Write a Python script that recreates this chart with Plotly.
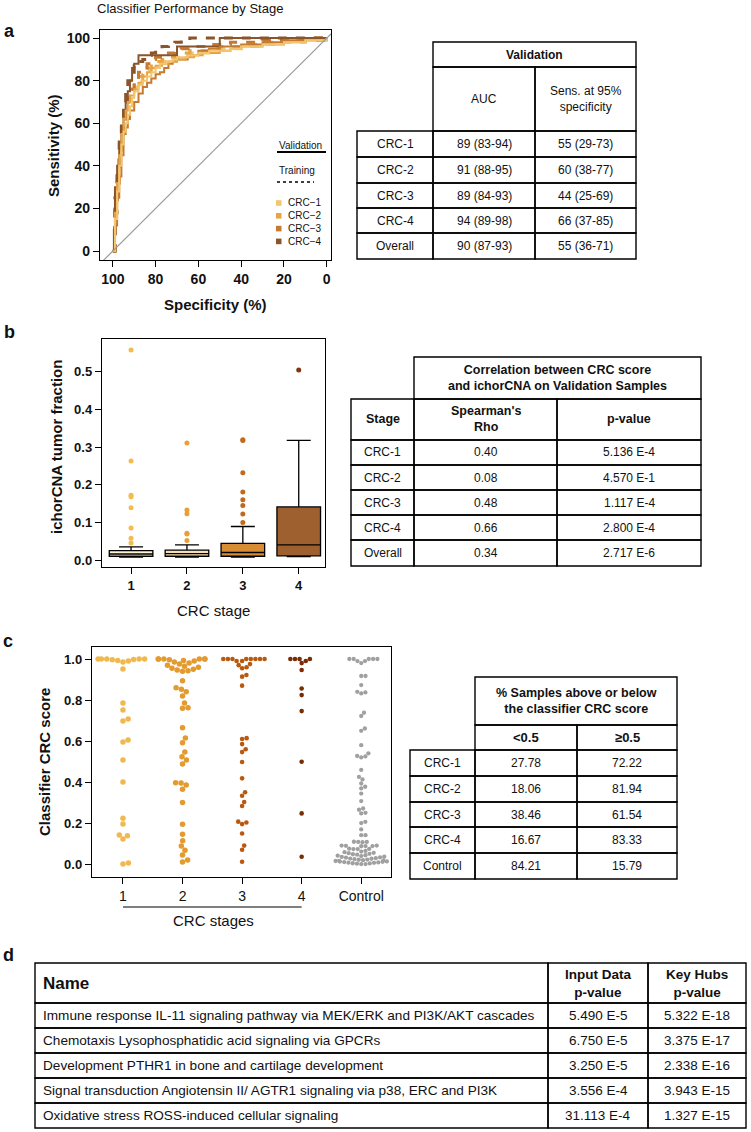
import math
import plotly.graph_objects as go

W, H = 751, 1132
FONT = "Liberation Sans, Arial, sans-serif"

# ---------------- data ----------------
stages = ["CRC-1", "CRC-2", "CRC-3", "CRC-4"]
roc_colors = ["#F3C56E", "#E6A445", "#C47A30", "#8B552B"]

val_spec = [
    [100, 99, 98, 97, 96, 95, 94, 93, 92, 91, 90, 88, 86, 84, 82, 80, 78, 75, 72, 70, 65, 60, 55, 50, 45, 40, 35, 30, 20, 10, 0],
    [100, 99, 98, 97, 96, 95, 94, 93, 92, 90, 88, 86, 84, 82, 80, 77, 74, 70, 66, 62, 58, 54, 50, 45, 40, 30, 20, 10, 0],
    [100, 99, 98, 97, 96, 95, 94, 93, 92, 90, 88, 86, 84, 82, 80, 78, 76, 74, 72, 70, 65, 60, 55, 50, 45, 40, 30, 20, 10, 0],
    [100, 99.5, 99, 98, 97, 96, 95, 94, 93, 92, 91, 90, 88, 84, 80, 76, 72, 70, 60, 52, 50, 40, 30, 20, 10, 0],
]
val_sens = [
    [0, 15, 28, 40, 50, 56, 60, 64, 68, 72, 75, 78, 80, 82, 84, 86, 88, 89, 90, 91, 92, 93, 94, 94, 95, 96, 96, 97, 98, 99, 100],
    [0, 18, 32, 45, 55, 62, 66, 70, 73, 76, 79, 82, 84, 86, 87, 88, 89, 90, 91, 92, 93, 93, 94, 95, 96, 97, 98, 99, 100],
    [0, 12, 25, 35, 45, 55, 58, 62, 66, 70, 74, 77, 79, 81, 83, 84, 86, 88, 89, 90, 92, 94, 95, 96, 96, 97, 98, 99, 99, 100],
    [0, 10, 30, 40, 50, 58, 62, 70, 75, 80, 86, 88, 92, 92, 92, 92, 92, 96, 96, 96, 100, 100, 100, 100, 100, 100],
]
train_spec = [100, 99, 98, 97, 96, 95, 94, 93, 92, 90, 88, 86, 84, 82, 80, 77, 74, 71, 68, 64, 60, 55, 50, 45, 40, 30, 20, 10, 0]
train_sens = [
    [0, 20, 34, 46, 55, 62, 66, 70, 74, 77, 80, 83, 85, 86, 88, 89, 90, 91, 92, 93, 93, 94, 95, 95, 96, 97, 98, 99, 100],
    [0, 22, 38, 50, 58, 64, 68, 72, 76, 79, 82, 84, 86, 88, 89, 90, 91, 92, 93, 94, 94, 95, 96, 96, 97, 98, 99, 99, 100],
    [0, 18, 32, 44, 54, 62, 67, 72, 76, 80, 84, 86, 88, 90, 91, 92, 93, 94, 95, 96, 96, 97, 97, 98, 98, 99, 99, 100, 100],
    [0, 25, 40, 52, 62, 70, 76, 80, 84, 87, 89, 90, 92, 93, 95, 96, 97, 98, 99, 100, 100, 100, 100, 100, 100, 100, 100, 100, 100],
]

table_a_rows = ["CRC-1", "CRC-2", "CRC-3", "CRC-4", "Overall"]
table_a_auc = ["89 (83-94)", "91 (88-95)", "89 (84-93)", "94 (89-98)", "90 (87-93)"]
table_a_sens = ["55 (29-73)", "60 (38-77)", "44 (25-69)", "66 (37-85)", "55 (36-71)"]

box_stage = [1, 2, 3, 4]
box_q1 = [0.010, 0.010, 0.010, 0.011]
box_med = [0.016, 0.017, 0.020, 0.040]
box_q3 = [0.025, 0.026, 0.044, 0.141]
box_low = [0.008, 0.008, 0.008, 0.009]
box_up = [0.035, 0.040, 0.089, 0.318]
box_fill = ["#FFF3D6", "#F6DFB3", "#D98C36", "#9E602E"]
outliers = [
    [0.558, 0.263, 0.172, 0.168, 0.139, 0.085, 0.058, 0.045],
    [0.311, 0.133, 0.123, 0.071, 0.069, 0.052],
    [0.320, 0.318, 0.232, 0.181, 0.160, 0.145, 0.122, 0.100],
    [0.505],
]
outlier_colors = ["#F3BC4D", "#E8A035", "#C26A1C", "#7E3510"]

table_b_rows = ["CRC-1", "CRC-2", "CRC-3", "CRC-4", "Overall"]
table_b_rho = ["0.40", "0.08", "0.48", "0.66", "0.34"]
table_b_p = ["5.136 E-4", "4.570 E-1", "1.117 E-4", "2.800 E-4", "2.717 E-6"]

swarm_labels = ["1", "2", "3", "4", "Control"]
swarm_colors = ["#F0B94F", "#E39A2E", "#B9590F", "#7A2C05", "#A0A0A0"]
swarm_sizes = [5.5, 5.5, 4.6, 4.6, 4.3]
score_stage1 = [0.0, 0.005, 0.122, 0.138, 0.142, 0.195, 0.224, 0.40, 0.507, 0.595, 0.605, 0.698, 0.707,
                0.751, 0.785, 0.951, 0.985, 0.99, 0.993, 0.996, 0.998, 1.0, 1.0, 1.0, 1.0, 1.0]
score_stage2 = [0.01, 0.02, 0.044, 0.068, 0.088, 0.114, 0.146, 0.194, 0.30, 0.365, 0.385, 0.395, 0.397,
                0.488, 0.507, 0.523, 0.546, 0.592, 0.615, 0.665, 0.76, 0.762, 0.785, 0.82, 0.84, 0.853,
                0.86, 0.894, 0.94, 0.943, 0.946, 0.95, 0.955, 0.96, 0.965, 0.97, 0.975, 0.98, 0.985,
                0.99, 0.993, 0.996, 1.0, 1.0, 1.0, 1.0, 1.0, 1.0]
score_stage3 = [0.011, 0.07, 0.09, 0.149, 0.195, 0.203, 0.207, 0.283, 0.303, 0.333, 0.35, 0.418, 0.498,
                0.546, 0.56, 0.585, 0.61, 0.614, 0.87, 0.914, 0.922, 0.955, 0.96, 0.97, 0.975, 0.99,
                0.99, 1.0, 1.0, 1.0, 1.0, 1.0, 1.0, 1.0, 1.0]
score_stage4 = [0.036, 0.247, 0.499, 0.746, 0.824, 0.856, 0.946, 0.98, 0.99, 1.0, 1.0, 1.0, 1.0]
score_control = [0.0, 0.0, 0.002, 0.003, 0.004, 0.006, 0.007, 0.008, 0.01, 0.011, 0.012, 0.013, 0.015,
                 0.016, 0.018, 0.019, 0.021, 0.022, 0.024, 0.026, 0.027, 0.029, 0.031, 0.033, 0.035,
                 0.036, 0.039, 0.041, 0.043, 0.046, 0.048, 0.05, 0.053, 0.055, 0.058, 0.061, 0.064,
                 0.073, 0.073, 0.074, 0.075, 0.087, 0.088, 0.088, 0.089, 0.09, 0.09, 0.107, 0.108,
                 0.108, 0.109, 0.141, 0.141, 0.169, 0.2, 0.206, 0.247, 0.25, 0.265, 0.271, 0.307,
                 0.344, 0.369, 0.377, 0.393, 0.413, 0.425, 0.459, 0.52, 0.525, 0.527, 0.54, 0.58,
                 0.65, 0.661, 0.722, 0.738, 0.832, 0.837, 0.84, 0.873, 0.917, 0.917, 0.98, 0.99,
                 0.99, 1.0, 1.0, 1.0, 1.0, 1.0]
swarm_scores = [score_stage1, score_stage2, score_stage3, score_stage4, score_control]

table_c_rows = ["CRC-1", "CRC-2", "CRC-3", "CRC-4", "Control"]
table_c_below = ["27.78", "18.06", "38.46", "16.67", "84.21"]
table_c_above = ["72.22", "81.94", "61.54", "83.33", "15.79"]

table_d_names = [
    "Immune response IL-11 signaling pathway via MEK/ERK and PI3K/AKT cascades",
    "Chemotaxis Lysophosphatidic acid signaling via GPCRs",
    "Development PTHR1 in bone and cartilage development",
    "Signal transduction Angiotensin II/ AGTR1 signaling via p38, ERC and PI3K",
    "Oxidative stress ROSS-induced cellular signaling",
]
table_d_input = ["5.490 E-5", "6.750 E-5", "3.250 E-5", "3.556 E-4", "31.113 E-4"]
table_d_hubs = ["5.322 E-18", "3.375 E-17", "2.338 E-16", "3.943 E-15", "1.327 E-15"]


# ---------------- helpers ----------------
def X(px):
    return px / W


def Y(py):
    return 1 - py / H


shapes = []
annotations = []


def text(px, py, s, size, bold=False, xanchor="center", angle=0, color="#111"):
    annotations.append(dict(
        x=X(px), y=Y(py), xref="paper", yref="paper", text=s, showarrow=False,
        xanchor=xanchor, yanchor="middle", textangle=angle,
        font=dict(family=FONT, size=size, color=color, weight="bold" if bold else "normal")))


def cell(x0, x1, y0, y1, s=None, size=12, bold=False, align="center"):
    shapes.append(dict(type="rect", xref="paper", yref="paper", x0=X(x0), x1=X(x1),
                       y0=Y(y1), y1=Y(y0), line=dict(color="black", width=1.4)))
    if s is not None:
        if align == "center":
            text((x0 + x1) / 2, (y0 + y1) / 2, s, size, bold)
        else:
            text(x0 + 6, (y0 + y1) / 2, s, size, bold, xanchor="left")


fig = go.Figure()

# ---------------- panel a: ROC ----------------
for i in range(4):
    fig.add_trace(go.Scatter(x=train_spec, y=train_sens[i], mode="lines", line_shape="hv",
                             line=dict(color=roc_colors[i], width=3, dash="dash"),
                             xaxis="x", yaxis="y", showlegend=False, hoverinfo="skip"))
for i in range(3, -1, -1):
    fig.add_trace(go.Scatter(x=val_spec[i], y=val_sens[i], mode="lines", line_shape="hv",
                             line=dict(color=roc_colors[i], width=2),
                             xaxis="x", yaxis="y", showlegend=False, hoverinfo="skip"))
fig.add_trace(go.Scatter(x=[106, -2], y=[-6, 102], mode="lines", line=dict(color="#999999", width=1.2),
                         xaxis="x", yaxis="y", showlegend=False, hoverinfo="skip"))

text(190, 9, "Classifier Performance by Stage", 13)
text(9, 31, "a", 18, True)
text(53, 146, "Sensitivity (%)", 15, True, angle=-90)
text(215, 304, "Specificity (%)", 15, True)
# legend
text(277, 145, "Validation", 10, xanchor="left")
shapes.append(dict(type="line", xref="paper", yref="paper", x0=X(277), x1=X(326), y0=Y(152), y1=Y(152),
                   line=dict(color="black", width=2)))
text(277, 171, "Training", 10, xanchor="left")
shapes.append(dict(type="line", xref="paper", yref="paper", x0=X(277), x1=X(314), y0=Y(182), y1=Y(182),
                   line=dict(color="black", width=1.5, dash="dot")))
for i, name in enumerate(stages):
    yy = 203 + i * 12.8
    shapes.append(dict(type="rect", xref="paper", yref="paper", x0=X(276), x1=X(281.5),
                       y0=Y(yy + 2.8), y1=Y(yy - 2.8), fillcolor=roc_colors[i], line=dict(width=0)))
    text(286, yy, name.replace("-", "\u2212"), 10, xanchor="left")

# table a
ca = [357, 433, 535, 636]
cell(ca[1], ca[3], 42, 67, "Validation", 12, True)
cell(ca[1], ca[2], 67, 131, "AUC", 12)
cell(ca[2], ca[3], 67, 131, "Sens. at 95%<br>specificity", 12)
ra = [131, 157, 183, 208, 233, 259]
for r in range(5):
    cell(ca[0], ca[1], ra[r], ra[r + 1], table_a_rows[r], 12)
    cell(ca[1], ca[2], ra[r], ra[r + 1], table_a_auc[r], 12)
    cell(ca[2], ca[3], ra[r], ra[r + 1], table_a_sens[r], 12)

# ---------------- panel b: boxplot ----------------
for i in range(4):
    fig.add_trace(go.Box(x=[box_stage[i]], q1=[box_q1[i]], median=[box_med[i]], q3=[box_q3[i]],
                         lowerfence=[box_low[i]], upperfence=[box_up[i]], width=0.78, whiskerwidth=0.55,
                         fillcolor=box_fill[i], line=dict(color="black", width=1.3), boxpoints=False,
                         xaxis="x2", yaxis="y2", showlegend=False, hoverinfo="skip"))
    fig.add_trace(go.Scatter(x=[box_stage[i]] * len(outliers[i]), y=outliers[i], mode="markers",
                             marker=dict(color=outlier_colors[i], size=5),
                             xaxis="x2", yaxis="y2", showlegend=False, hoverinfo="skip"))
text(9, 332, "b", 18, True)
text(57, 447, "ichorCNA tumor fraction", 15, True, angle=-90)
text(213, 610, "CRC stage", 15)

# table b
cb = [351, 414, 557, 701]
cell(cb[1], cb[3], 357, 399, "Correlation between CRC score<br>and ichorCNA on Validation Samples", 12.5, True)
cell(cb[0], cb[1], 399, 440, "Stage", 12.5, True)
cell(cb[1], cb[2], 399, 440, "Spearman's<br>Rho", 12.5, True)
cell(cb[2], cb[3], 399, 440, "p-value", 12.5, True)
rb = [440, 465, 490, 515, 540, 566]
for r in range(5):
    cell(cb[0], cb[1], rb[r], rb[r + 1], table_b_rows[r], 12)
    cell(cb[1], cb[2], rb[r], rb[r + 1], table_b_rho[r], 12)
    cell(cb[2], cb[3], rb[r], rb[r + 1], table_b_p[r], 12)

# ---------------- panel c: beeswarm ----------------
C_X0, C_X1, C_Y0, C_Y1 = 92, 391, 647, 877
cx_range = [0.48, 5.5]
cy_range = [-0.063, 1.0585]
xscale = (C_X1 - C_X0) / (cx_range[1] - cx_range[0])
yscale = (C_Y1 - C_Y0) / (cy_range[1] - cy_range[0])


def beeswarm(vals, dpx, limit_px):
    order = sorted(range(len(vals)), key=lambda k: vals[k])
    placed = []
    offs = [0.0] * len(vals)
    for k in order:
        y = vals[k] * yscale
        cands = [0.0]
        for xo, yo in placed:
            dy = abs(y - yo)
            if dy < dpx:
                dx = math.sqrt(dpx * dpx - dy * dy)
                cands.extend([xo + dx, xo - dx])
        cands.sort(key=abs)
        chosen = 0.0
        for c in cands:
            if all((c - xo) ** 2 + (y - yo) ** 2 >= dpx * dpx - 1e-6 for xo, yo in placed):
                chosen = c
                break
        placed.append((chosen, y))
        xo = chosen
        if abs(xo) > limit_px:
            xo = ((xo + limit_px) % (2 * limit_px)) - limit_px
        offs[k] = xo / xscale
    return offs


for g in range(5):
    vals = swarm_scores[g]
    offs = beeswarm(vals, swarm_sizes[g], 26)
    fig.add_trace(go.Scatter(x=[g + 1 + o for o in offs], y=vals, mode="markers",
                             marker=dict(color=swarm_colors[g], size=swarm_sizes[g]),
                             xaxis="x3", yaxis="y3", showlegend=False, hoverinfo="skip"))

text(8, 641, "c", 18, True)
text(44, 762, "Classifier CRC score", 15, True, angle=-90)
shapes.append(dict(type="line", xref="x3", yref="paper", x0=1, x1=4, y0=Y(907), y1=Y(907),
                   line=dict(color="black", width=1.2)))
text(213, 920, "CRC stages", 15)

# table c
cc = [410, 475, 577, 677]
cell(cc[1], cc[3], 677, 725, "% Samples above or below<br>the classifier CRC score", 12.5, True)
cell(cc[1], cc[2], 725, 750, "<0.5", 13, True)
cell(cc[2], cc[3], 725, 750, "\u22650.5", 13, True)
rc = [750, 776, 802, 827, 853, 879]
for r in range(5):
    cell(cc[0], cc[1], rc[r], rc[r + 1], table_c_rows[r], 12)
    cell(cc[1], cc[2], rc[r], rc[r + 1], table_c_below[r], 12)
    cell(cc[2], cc[3], rc[r], rc[r + 1], table_c_above[r], 12)

# ---------------- panel d: table ----------------
text(8, 955, "d", 18, True)
cd = [35, 548, 648, 746]
cell(cd[0], cd[1], 963, 1003, "Name", 17, True, align="left")
cell(cd[1], cd[2], 963, 1003, "Input Data<br>p-value", 13.5, True)
cell(cd[2], cd[3], 963, 1003, "Key Hubs<br>p-value", 13.5, True)
rd = [1003, 1028, 1053, 1078, 1103, 1128]
for r in range(5):
    cell(cd[0], cd[1], rd[r], rd[r + 1], table_d_names[r], 13.6, align="left")
    cell(cd[1], cd[2], rd[r], rd[r + 1], table_d_input[r], 13.5)
    cell(cd[2], cd[3], rd[r], rd[r + 1], table_d_hubs[r], 13.5)

# ---------------- layout ----------------
axis_common = dict(showline=True, mirror=True, linecolor="black", linewidth=1.4, ticks="outside",
                   ticklen=6, tickcolor="black", showgrid=False, zeroline=False,
                   tickfont=dict(family=FONT, size=13, color="#111", weight="bold"))

fig.update_layout(
    width=W, height=H, margin=dict(l=0, r=0, t=0, b=0),
    paper_bgcolor="white", plot_bgcolor="white", showlegend=False,
    xaxis=dict(domain=[X(100), X(331)], range=[106, -2], tickvals=[100, 80, 60, 40, 20, 0],
               anchor="y", **{**axis_common, "tickfont": dict(family=FONT, size=14, color="#111", weight="bold")}),
    yaxis=dict(domain=[Y(260), Y(30)], range=[-4.2, 103.8], tickvals=[0, 20, 40, 60, 80, 100],
               anchor="x", **{**axis_common, "tickfont": dict(family=FONT, size=14, color="#111", weight="bold")}),
    xaxis2=dict(domain=[X(102), X(325)], range=[0.48, 4.47], tickvals=box_stage,
                ticktext=[str(s) for s in box_stage], anchor="y2", **axis_common),
    yaxis2=dict(domain=[Y(567), Y(339)], range=[-0.0186, 0.5875], tickvals=[0, 0.1, 0.2, 0.3, 0.4, 0.5],
                tickformat=".1f", anchor="x2", **axis_common),
    xaxis3=dict(domain=[X(C_X0), X(C_X1)], range=cx_range, tickvals=[1, 2, 3, 4, 5],
                ticktext=swarm_labels, anchor="y3",
                **{**axis_common, "tickfont": dict(family=FONT, size=14, color="#111")}),
    yaxis3=dict(domain=[Y(C_Y1), Y(C_Y0)], range=cy_range, tickvals=[0, 0.2, 0.4, 0.6, 0.8, 1.0],
                tickformat=".1f", anchor="x3", **axis_common),
    shapes=shapes, annotations=annotations,
)

fig.write_html("out.html", config={"displayModeBar": False},
               post_script="document.body.style.margin='0px';document.body.style.overflow='hidden';")
